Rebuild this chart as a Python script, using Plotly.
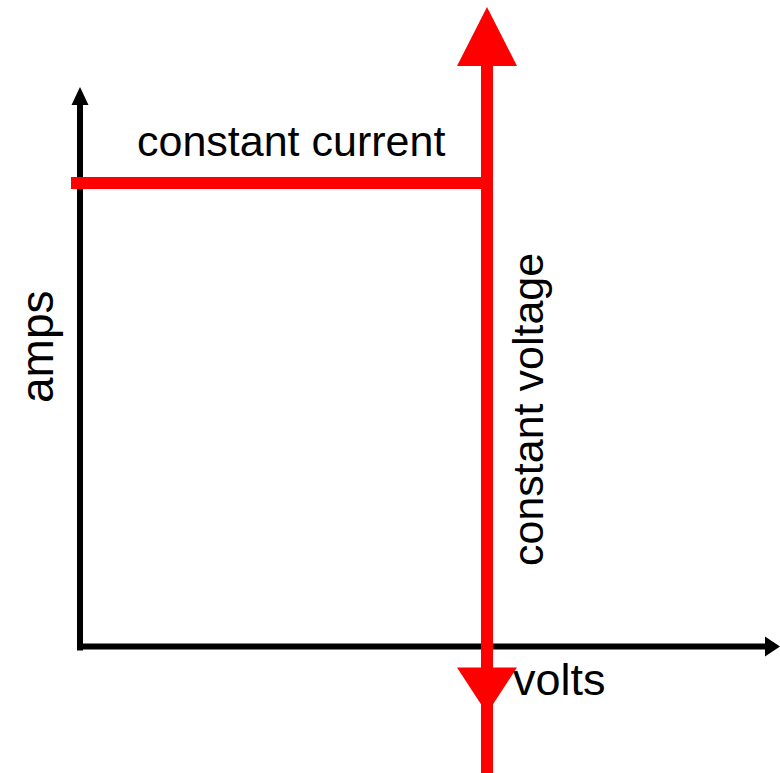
import plotly.graph_objects as go

# Conceptual data (volts / amps)
CV_LIMIT = 10.0      # constant-voltage setting (volts)
CC_LIMIT = 5.0       # constant-current setting (amps)
X_RANGE = [-1.9656, 17.199]   # volts
Y_RANGE = [-1.3578, 6.972]    # amps
LABELS = {"x": "volts", "y": "amps", "cc": "constant current", "cv": "constant voltage"}

# scale helpers (pixels per unit) derived from axis ranges and figure size
W, H = 780, 773
PX_X = W / (X_RANGE[1] - X_RANGE[0])
PX_Y = H / (Y_RANGE[1] - Y_RANGE[0])

def dx(px):
    return px / PX_X

def dy(px):
    return px / PX_Y

RED = "#ff0000"
BLACK = "#000000"

shapes = []
# black axes
y_tip = Y_RANGE[1] - dy(87)
x_tip = X_RANGE[1]
shapes.append(dict(type="line", x0=0, x1=0, y0=-dy(3.5), y1=y_tip - dy(17),
                   line=dict(color=BLACK, width=6), layer="above"))
shapes.append(dict(type="path",
                   path=f"M {-dx(8.5)} {y_tip - dy(18)} L {dx(8.5)} {y_tip - dy(18)} L 0 {y_tip} Z",
                   fillcolor=BLACK, line=dict(width=0), layer="above"))
shapes.append(dict(type="line", x0=-dx(3), x1=x_tip - dx(13), y0=dy(0.5), y1=dy(0.5),
                   line=dict(color=BLACK, width=6), layer="above"))
shapes.append(dict(type="path",
                   path=f"M {x_tip - dx(15)} {dy(10.5)} L {x_tip - dx(15)} {-dy(9.5)} L {x_tip} {dy(0.5)} Z",
                   fillcolor=BLACK, line=dict(width=0), layer="above"))

# constant current line
shapes.append(dict(type="line", x0=-dx(9), x1=CV_LIMIT + dx(6), y0=CC_LIMIT, y1=CC_LIMIT,
                   line=dict(color=RED, width=12), layer="above"))
# constant voltage line
top_tip = Y_RANGE[1] - dy(7)
shapes.append(dict(type="line", x0=CV_LIMIT, x1=CV_LIMIT, y0=Y_RANGE[0], y1=top_tip - dy(58),
                   line=dict(color=RED, width=12), layer="above"))
# top arrowhead
shapes.append(dict(type="path",
                   path=f"M {CV_LIMIT - dx(30)} {top_tip - dy(59)} L {CV_LIMIT + dx(30)} {top_tip - dy(59)} L {CV_LIMIT} {top_tip} Z",
                   fillcolor=RED, line=dict(width=0), layer="above"))
# bottom arrowhead
shapes.append(dict(type="path",
                   path=f"M {CV_LIMIT - dx(30)} {-dy(20.5)} L {CV_LIMIT + dx(30)} {-dy(20.5)} L {CV_LIMIT} {-dy(66.5)} Z",
                   fillcolor=RED, line=dict(width=0), layer="above"))

FAMILY = "Liberation Sans, Arial, sans-serif"

def font(size):
    return dict(family=FAMILY, size=size, color=BLACK)

annotations = [
    dict(x=dx(55), y=CC_LIMIT + dy(42), text=LABELS["cc"], showarrow=False,
         xanchor="left", yanchor="middle", font=font(43)),
    dict(x=-dx(43), y=CC_LIMIT - dy(164), text=LABELS["y"], showarrow=False,
         textangle=-90, xanchor="center", yanchor="middle", font=font(46)),
    dict(x=CV_LIMIT + dx(41), y=CC_LIMIT - dy(227), text=LABELS["cv"], showarrow=False,
         textangle=-90, xanchor="center", yanchor="middle", font=font(43)),
    dict(x=CV_LIMIT + dx(24), y=-dy(32), text=LABELS["x"], showarrow=False,
         xanchor="left", yanchor="middle", font=font(45)),
]

fig = go.Figure()
fig.add_trace(go.Scatter(x=[X_RANGE[0]], y=[Y_RANGE[0]], mode="markers",
                         marker=dict(opacity=0), hoverinfo="skip", showlegend=False))
fig.update_layout(
    width=W, height=H,
    margin=dict(l=0, r=0, t=0, b=0),
    paper_bgcolor="white", plot_bgcolor="white",
    xaxis=dict(range=X_RANGE, visible=False, fixedrange=True),
    yaxis=dict(range=Y_RANGE, visible=False, fixedrange=True),
    shapes=shapes, annotations=annotations, showlegend=False,
)
fig.write_html("out.html", config={"displayModeBar": False},
               post_script="document.body.style.margin='0';document.body.style.overflow='hidden';")
